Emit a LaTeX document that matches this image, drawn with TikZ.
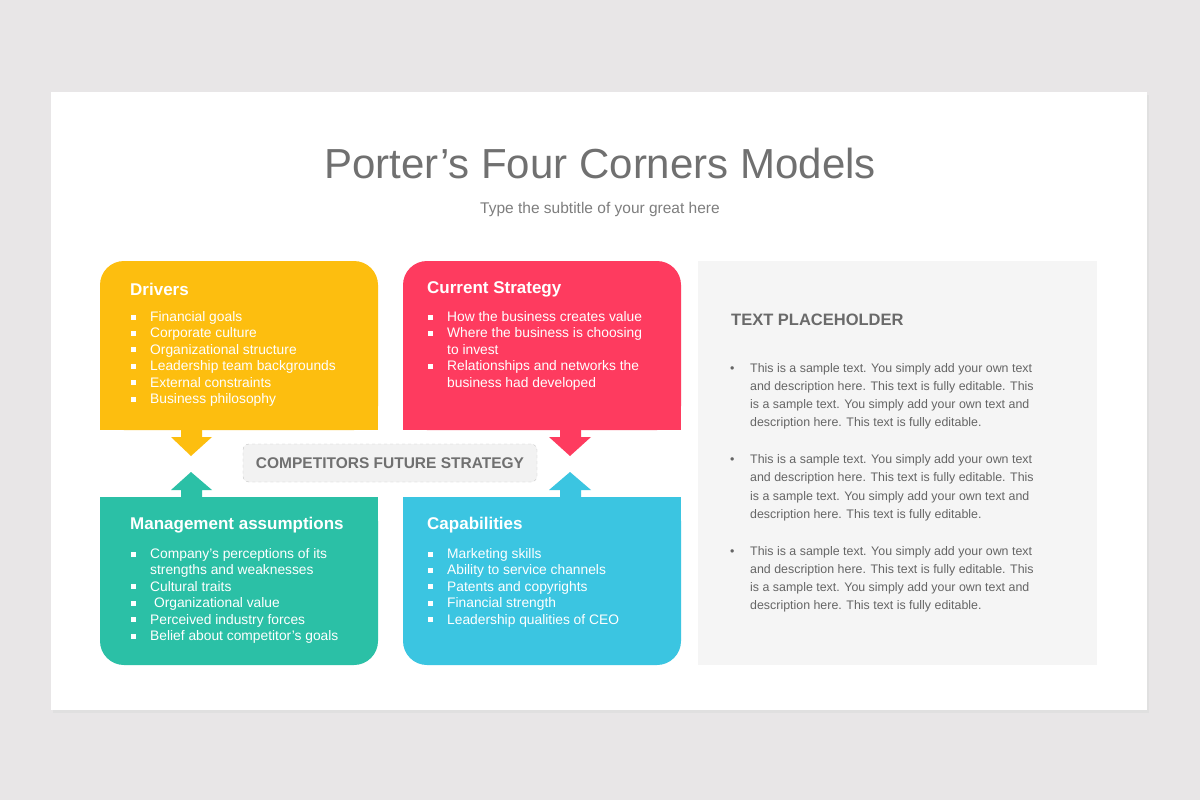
\documentclass[tikz,border=0pt]{standalone}
\usepackage{fontspec}
\setmainfont{Liberation Sans}
\definecolor{bg}{HTML}{E8E6E7}
\definecolor{cy}{HTML}{FDBE0F}
\definecolor{cr}{HTML}{FE3B5F}
\definecolor{ct}{HTML}{2BC0A6}
\definecolor{cb}{HTML}{3BC5E1}
\definecolor{tg}{HTML}{707070}
\definecolor{pg}{HTML}{F5F5F5}
\begin{document}
\begin{tikzpicture}[x=1pt,y=-1pt,
  ttl/.style={anchor=west,text=white,font=\fontsize{17}{17}\selectfont\bfseries,inner sep=0},
  itm/.style={anchor=west,text=white,font=\fontsize{13.8}{14}\selectfont,inner sep=0,text height=10pt,text depth=1pt},
  ptx/.style={anchor=west,text=tg!90!black,font=\fontsize{12.4}{12}\selectfont,inner sep=0,text height=9pt,text depth=1pt},
  sq/.style={fill=white}]
\useasboundingbox (0,0) rectangle (1200,800);
\fill[bg] (0,0) rectangle (1200,800);
\fill[black!12] (53,95) rectangle (1149,713);
\fill[white] (51,92) rectangle (1147,710);
\node[text=tg,font=\fontsize{42}{42}\selectfont,inner sep=0] (title) at (600,163) {Porter's Four Corners Models};
\node[text=tg!90,font=\fontsize{15.5}{16}\selectfont,inner sep=0] (sub) at (600,209) {Type the subtitle of your great here};
% boxes
\fill[cy,rounded corners=24] (100,430) -- (100,261) -- (378,261) -- (378,430) -- cycle;
\fill[cy] (100,400) rectangle (378,430);
\fill[cr,rounded corners=24] (403,430) -- (403,261) -- (681,261) -- (681,430) -- cycle;
\fill[cr] (403,400) rectangle (681,430);
\fill[ct,rounded corners=24] (100,497) -- (100,665) -- (378,665) -- (378,497) -- cycle;
\fill[ct] (100,497) rectangle (378,527);
\fill[cb,rounded corners=24] (403,497) -- (403,665) -- (681,665) -- (681,497) -- cycle;
\fill[cb] (403,497) rectangle (681,527);
% arrows
\fill[cy] (181,429) -- (181,437) -- (171,437) -- (191,456) -- (212,437) -- (202,437) -- (202,429) -- cycle;
\fill[cr] (560,429) -- (560,437) -- (549,437) -- (570,456) -- (591,437) -- (581,437) -- (581,429) -- cycle;
\fill[ct] (181,498) -- (181,490) -- (171,490) -- (191,472) -- (212,490) -- (202,490) -- (202,498) -- cycle;
\fill[cb] (560,498) -- (560,490) -- (549,490) -- (570,472) -- (591,490) -- (581,490) -- (581,498) -- cycle;
% centre
\node[draw=black!22,dashed,fill=black!5,rounded corners=6,minimum width=294,minimum height=38,text=tg,font=\fontsize{15.5}{16}\selectfont\bfseries] (cfs) at (390,463) {COMPETITORS FUTURE STRATEGY};
% Drivers
\node[ttl] (dt) at (130,289) {Drivers};
\foreach \t [count=\i] in {Financial goals,Corporate culture,Organizational structure,Leadership team backgrounds,External constraints,Business philosophy}{
  \pgfmathsetmacro\yy{317+(\i-1)*16.4}
  \fill[sq] (130.5,\yy-2.5) rectangle (135.5,\yy+2.5);
  \node[itm] (d\i) at (150,\yy) {\t};}
\node[ttl] (ct) at (427,289) {Current Strategy};
\foreach \t/\yy/\b [count=\i] in {How the business creates value/317/1,Where the business is choosing/333.4/1,to invest/349.8/0,Relationships and networks the/366.2/1,business had developed/382.6/0}{
  \ifnum\b=1 \fill[sq] (427.5,\yy-2.5) rectangle (432.5,\yy+2.5);\fi
  \node[itm] (c\i) at (447,\yy) {\t};}
\node[ttl] (mt) at (130,525) {Management assumptions};
\foreach \t/\yy/\b [count=\i] in {Company's perceptions of its/554/1,strengths and weaknesses/570.4/0,Cultural traits/586.8/1,\ Organizational value/603.2/1,Perceived industry forces/619.6/1,Belief about competitor's goals/636/1}{
  \ifnum\b=1 \fill[sq] (130.5,\yy-2.5) rectangle (135.5,\yy+2.5);\fi
  \node[itm] (m\i) at (150,\yy) {\t};}
\node[ttl] (kt) at (427,525) {Capabilities};
\foreach \t [count=\i] in {Marketing skills,Ability to service channels,Patents and copyrights,Financial strength,Leadership qualities of CEO}{
  \pgfmathsetmacro\yy{554+(\i-1)*16.4}
  \fill[sq] (427.5,\yy-2.5) rectangle (432.5,\yy+2.5);
  \node[itm] (k\i) at (447,\yy) {\t};}
% right panel
\fill[pg] (698,261) rectangle (1097,665);
\node[anchor=west,inner sep=0,text=tg!95!black,font=\fontsize{16.5}{17}\selectfont\bfseries] (tp) at (731,320) {TEXT PLACEHOLDER};
\foreach \y [count=\j] in {368,459.5,551}{
  \node[ptx] (b\j) at (730,\y) {•};
  \node[ptx] (p\j a) at (750,\y) {This is a sample text. You simply add your own text};
  \node[ptx] (p\j b) at (750,\y+18.3) {and description here. This text is fully editable. This};
  \node[ptx] (p\j c) at (750,\y+36.6) {is a sample text. You simply add your own text and};
  \node[ptx] (p\j d) at (750,\y+54.9) {description here. This text is fully editable.};}
\end{tikzpicture}
\end{document}
